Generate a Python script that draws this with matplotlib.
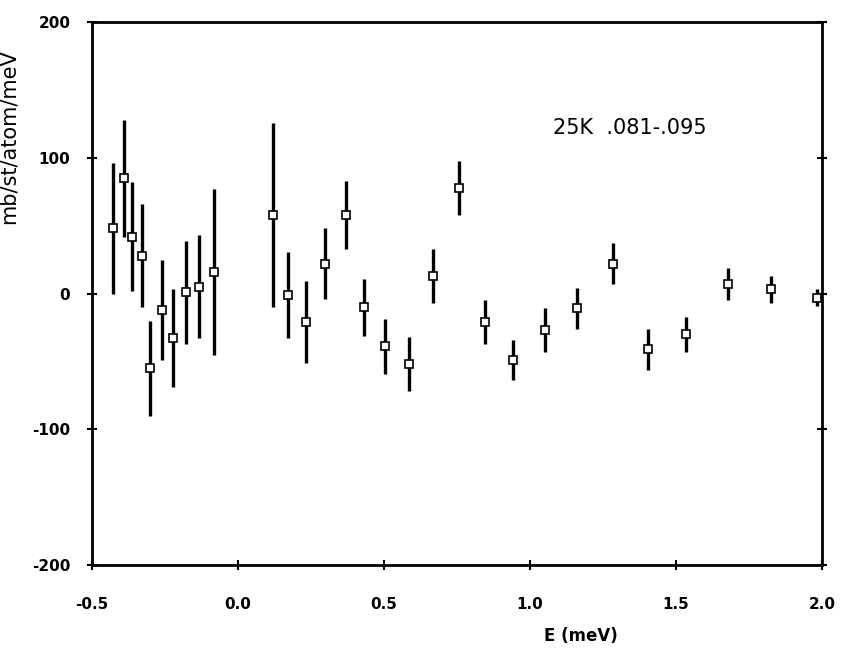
import numpy as np
import matplotlib.pyplot as plt

## Data
energy = [-0.427, -0.391, -0.361, -0.328, -0.299, -0.259, -0.221, -0.177, -0.133, -0.082,
          0.119, 0.173, 0.235, 0.299, 0.371, 0.432, 0.503, 0.585, 0.667, 0.759,
          0.847, 0.942, 1.051, 1.163, 1.286, 1.405, 1.534, 1.680, 1.827, 1.985]
signal = [48, 85, 42, 28, -55, -12, -33, 1, 5, 16,
          58, -1, -21, 22, 58, -10, -39, -52, 13, 78,
          -21, -49, -27, -11, 22, -41, -30, 7, 3, -3]
error = [48, 43, 40, 38, 35, 37, 36, 38, 38, 61,
         68, 32, 30, 26, 25, 21, 20, 20, 20, 20,
         16, 15, 16, 15, 15, 15, 13, 12, 10, 6]

x_ticks = [-0.5, 0.0, 0.5, 1.0, 1.5, 2.0]
x_ticklabels = ['-0.5', '0.0', '0.5', '1.0', '1.5', '2.0']
y_ticks = [-200, -100, 0, 100, 200]
y_ticklabels = ['-200', '-100', '0', '100', '200']

fig = plt.figure(figsize=(8.42, 6.56), dpi=100)
ax = fig.add_axes([0.109, 0.139, 0.867, 0.827])

ax.errorbar(energy, signal, yerr=error, fmt='s', color='black', mfc='white', mec='black',
            ms=5.5, mew=1.2, elinewidth=2.4, capsize=0, clip_on=False)

ax.set_xlim(-0.5, 2.0)
ax.set_ylim(-200, 200)
ax.set_xticks(x_ticks)
ax.set_xticklabels(x_ticklabels)
ax.set_yticks(y_ticks)
ax.set_yticklabels(y_ticklabels)
ax.tick_params(direction='inout', length=7, width=1.5, labelsize=11,
               right=True, top=False)
ax.tick_params(axis='x', pad=20)
ax.tick_params(axis='y', pad=12)
for lab in ax.get_xticklabels() + ax.get_yticklabels():
    lab.set_fontweight('bold')
for sp in ax.spines.values():
    sp.set_linewidth(2)

ax.text(1.08, 118, '25K  .081-.095', fontsize=15)

ax.set_xlabel('E (meV)', fontsize=12, fontweight='bold')
ax.xaxis.set_label_coords(0.67, -0.115)
ax.set_ylabel('mb/st/atom/meV', fontsize=15)
ax.yaxis.set_label_coords(-0.1, 0.79)

plt.savefig('out.png', dpi=100)
